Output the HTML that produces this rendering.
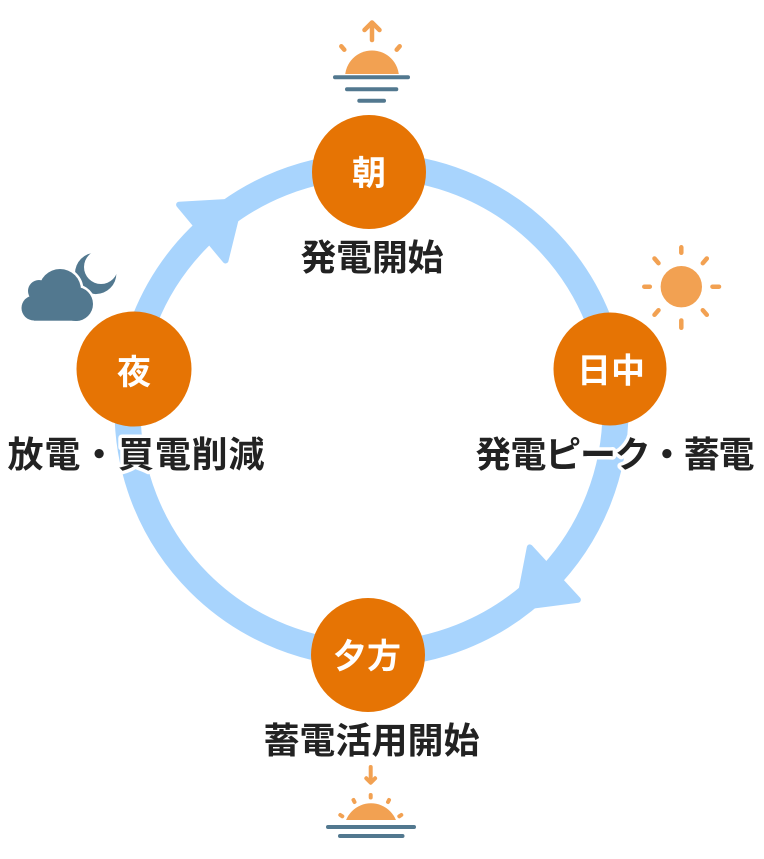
<!DOCTYPE html>
<html>
<head>
<meta charset="utf-8">
<style>
  html, body { margin: 0; padding: 0; background: #ffffff; }
  svg { display: block; }
  .lbl { font-family: "Liberation Sans", "Noto Sans CJK JP", sans-serif; font-weight: 700; font-size: 36px; fill: #222222; stroke: #ffffff; stroke-width: 7px; stroke-linejoin: round; paint-order: stroke fill; }
  .nd { font-family: "Liberation Sans", "Noto Sans CJK JP", sans-serif; font-weight: 700; font-size: 34px; fill: #ffffff; }
</style>
</head>
<body>
<svg width="764" height="859" viewBox="0 0 764 859" xmlns="http://www.w3.org/2000/svg">
  <defs>
    <clipPath id="c1"><rect x="330" y="40" width="90" height="34"/></clipPath>
    <clipPath id="c2"><rect x="330" y="795" width="90" height="25"/></clipPath>
    <mask id="mm">
      <rect x="60" y="240" width="70" height="70" fill="#fff"/>
      <circle cx="101" cy="267" r="17" fill="#000"/>
    </mask>
  </defs>

  <!-- ring -->
  <circle cx="371.5" cy="410" r="244" fill="none" stroke="#a8d4fd" stroke-width="26"/>

  <!-- arrowheads -->
  <polygon points="179.1,204.7 225.5,260.5 240.1,201.2" fill="#a8d4fd" stroke="#a8d4fd" stroke-width="6" stroke-linejoin="round"/>
  <polygon points="529.8,547.4 577.9,599.8 518.2,607.5" fill="#a8d4fd" stroke="#a8d4fd" stroke-width="6" stroke-linejoin="round"/>

  <!-- nodes -->
  <circle cx="369" cy="172" r="57" fill="#e67404"/>
  <circle cx="134" cy="369" r="57.5" fill="#e67404"/>
  <circle cx="610" cy="369" r="56.5" fill="#e67404"/>
  <circle cx="368" cy="655" r="57" fill="#e67404"/>

  <text class="nd" x="369" y="185" text-anchor="middle">朝</text>
  <text class="nd" x="134" y="384" text-anchor="middle">夜</text>
  <text class="nd" x="611" y="382.5" text-anchor="middle">日中</text>
  <text class="nd" x="367" y="668" text-anchor="middle">夕方</text>

  <!-- labels -->
  <text class="lbl" x="372" y="270" text-anchor="middle" textLength="143" lengthAdjust="spacing">発電開始</text>
  <text class="lbl" x="136" y="467" text-anchor="middle" textLength="257" lengthAdjust="spacing">放電・買電削減</text>
  <text class="lbl" x="615" y="467" text-anchor="middle" textLength="279" lengthAdjust="spacing">発電ピーク・蓄電</text>
  <text class="lbl" x="371.5" y="753" text-anchor="middle" textLength="216" lengthAdjust="spacing">蓄電活用開始</text>

  <!-- sunrise (top) -->
  <g stroke="#f2a152" stroke-width="4.5" stroke-linecap="round" stroke-linejoin="round" fill="none">
    <line x1="372" y1="40" x2="372" y2="23.5"/>
    <polyline points="364.5,30 372,22.5 379.5,30"/>
    <line x1="341.3" y1="46.3" x2="344.3" y2="49.7"/>
    <line x1="399.7" y1="46.3" x2="396.7" y2="49.7"/>
  </g>
  <circle cx="372" cy="77.5" r="27" fill="#f2a152" clip-path="url(#c1)"/>
  <g stroke="#52788f" stroke-width="4" stroke-linecap="round">
    <line x1="335" y1="77.3" x2="408" y2="77.3"/>
    <line x1="347" y1="89.3" x2="396.3" y2="89.3"/>
    <line x1="359.3" y1="100.7" x2="384" y2="100.7"/>
  </g>

  <!-- sunset (bottom) -->
  <g stroke="#f2a152" stroke-width="4" stroke-linecap="round" stroke-linejoin="round" fill="none">
    <line x1="370.7" y1="767" x2="370.7" y2="782"/>
    <polyline points="366.3,778.3 370.7,782.7 375.1,778.3"/>
    <line x1="370.7" y1="795" x2="370.7" y2="797.5"/>
    <line x1="353.5" y1="800" x2="354.5" y2="802"/>
    <line x1="389" y1="800" x2="388" y2="802"/>
    <line x1="340.3" y1="815" x2="342.3" y2="816.3"/>
    <line x1="401.3" y1="815" x2="399.3" y2="816.3"/>
  </g>
  <circle cx="371" cy="830.3" r="27" fill="#f2a152" clip-path="url(#c2)"/>
  <g stroke="#52788f" stroke-width="4" stroke-linecap="round">
    <line x1="328" y1="827" x2="414" y2="827"/>
    <line x1="340" y1="836" x2="402.5" y2="836"/>
  </g>

  <!-- sun (right) -->
  <circle cx="681.3" cy="286.7" r="20.7" fill="#f2a152"/>
  <g stroke="#f2a152" stroke-width="4.5" stroke-linecap="round">
    <line x1="681.3" y1="247.3" x2="681.3" y2="252.8"/>
    <line x1="681.3" y1="320.5" x2="681.3" y2="327.8"/>
    <line x1="644.3" y1="286.7" x2="649.8" y2="286.7"/>
    <line x1="712.5" y1="286.7" x2="719" y2="286.7"/>
    <line x1="654.5" y1="258.5" x2="658.5" y2="263.2"/>
    <line x1="706.8" y1="258.5" x2="702.8" y2="263.2"/>
    <line x1="654.5" y1="314.8" x2="658.5" y2="310.2"/>
    <line x1="706.8" y1="314.8" x2="702.8" y2="310.2"/>
  </g>

  <!-- moon -->
  <circle cx="95.7" cy="273.4" r="20.7" fill="#52788f" mask="url(#mm)"/>

  <!-- cloud white gap underlay -->
  <g fill="#ffffff" stroke="#ffffff" stroke-width="5">
    <circle cx="34" cy="308" r="12.5"/>
    <circle cx="39" cy="291" r="11"/>
    <circle cx="60" cy="290" r="21"/>
    <circle cx="76" cy="304" r="17"/>
    <rect x="34" y="300" width="44" height="20.7"/>
  </g>
  <!-- cloud -->
  <g fill="#52788f">
    <circle cx="34" cy="308" r="12.5"/>
    <circle cx="39" cy="291" r="11"/>
    <circle cx="60" cy="290" r="21"/>
    <circle cx="76" cy="304" r="17"/>
    <rect x="34" y="300" width="44" height="20.7"/>
  </g>
</svg>
</body>
</html>
